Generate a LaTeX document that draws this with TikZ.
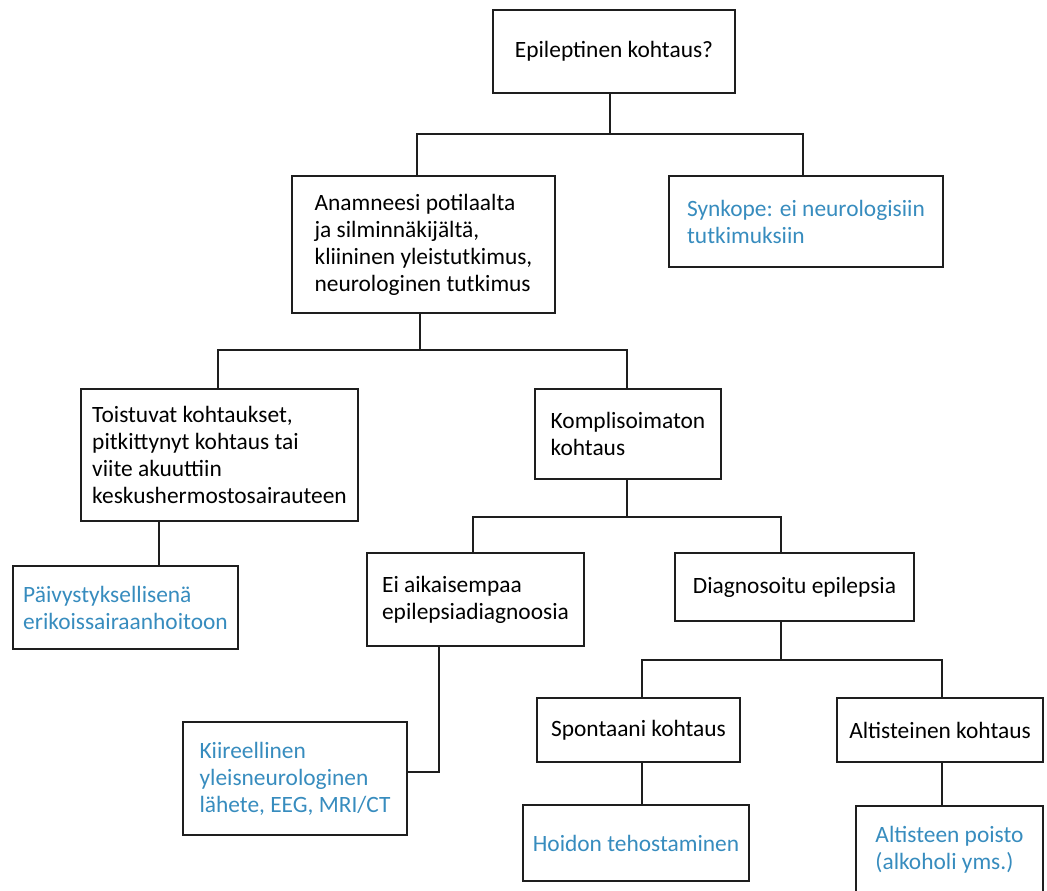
\documentclass[tikz,border=0pt]{standalone}
\usepackage{fontspec}
\setmainfont{Carlito}
\definecolor{actblue}{RGB}{55,140,190}
\definecolor{lineblack}{RGB}{30,30,30}
\tikzset{
  box/.style={draw=lineblack, line width=1pt, rectangle, inner sep=0pt,
    align=left, font=\fontsize{11.7}{13.5}\selectfont},
  act/.style={box, text=actblue},
  link/.style={draw=lineblack, line width=1pt}
}
\begin{document}
\begin{tikzpicture}[x=0.5pt,y=-0.5pt]
\useasboundingbox (0,0) rectangle (1047,890);
% question at the top
\node[box, align=center, minimum width=121pt, minimum height=41.5pt] (top) at (614,51.5) {Epileptinen kohtaus?};
% second row
\node[box, minimum width=131.5pt, minimum height=68.5pt] (anam) at (423.5,244.5)
  {Anamneesi potilaalta\\ja silminnäkijältä,\\kliininen yleistutkimus,\\neurologinen tutkimus};
\node[act, minimum width=137pt, minimum height=45.5pt] (syn) at (806,221.5)
  {Synkope: ei neurologisiin\\tutkimuksiin};
% third row
\node[box, minimum width=138.5pt, minimum height=66pt] (toist) at (219.5,455)
  {Toistuvat kohtaukset,\\pitkittynyt kohtaus tai\\viite akuuttiin\\keskushermostosairauteen};
\node[box, minimum width=93pt, minimum height=45pt] (komp) at (628,434)
  {Komplisoimaton\\kohtaus};
% fourth row
\node[act, minimum width=112.5pt, minimum height=41.5pt] (paiv) at (125.5,607.5)
  {Päivystyksellisenä\\erikoissairaanhoitoon};
\node[box, minimum width=108.5pt, minimum height=46.5pt] (ei) at (475.5,599.5)
  {Ei aikaisempaa\\epilepsiadiagnoosia};
\node[box, align=center, minimum width=119.5pt, minimum height=34pt] (diag) at (794.5,587)
  {Diagnosoitu epilepsia};
% fifth row
\node[act, minimum width=112pt, minimum height=56.5pt] (kiir) at (295,778.5)
  {Kiireellinen\\yleisneurologinen\\lähete, EEG, MRI/CT};
\node[box, align=center, minimum width=101.5pt, minimum height=32pt] (spont) at (638.5,730)
  {Spontaani kohtaus};
\node[box, align=center, minimum width=103pt, minimum height=32pt] (alt) at (940,730)
  {Altisteinen kohtaus};
% last row
\node[act, align=center, minimum width=113pt, minimum height=38pt] (hoid) at (636,843)
  {Hoidon tehostaminen};
\node[act, minimum width=93.5pt, minimum height=44pt] (altp) at (949.5,850)
  {Altisteen poisto\\(alkoholi yms.)};
% junctions
\coordinate (j1) at (610,134);
\coordinate (j2) at (420,350);
\coordinate (j3) at (627,517);
\coordinate (j4) at (781,660);
% connectors
\draw[link] (top.south -| j1) -- (j1);
\draw[link] (anam.north -| 417,0) |- (j1) -| (syn.north -| 803,0);
\draw[link] (anam.south -| j2) -- (j2);
\draw[link] (toist.north -| 218,0) |- (j2) -| (komp.north -| j3);
\draw[link] (komp.south -| j3) -- (j3);
\draw[link] (ei.north -| 473,0) |- (j3) -| (diag.north -| j4);
\draw[link] (diag.south -| j4) -- (j4);
\draw[link] (spont.north -| 642,0) |- (j4) -| (alt.north -| 942,0);
\draw[link] (toist.south -| 159,0) -- (paiv.north -| 159,0);
\draw[link] (ei.south -| 439,0) |- (kiir.east |- 0,772);
\draw[link] (spont.south -| 642,0) -- (hoid.north -| 642,0);
\draw[link] (alt.south -| 942,0) -- (altp.north -| 942,0);
\end{tikzpicture}
\end{document}
